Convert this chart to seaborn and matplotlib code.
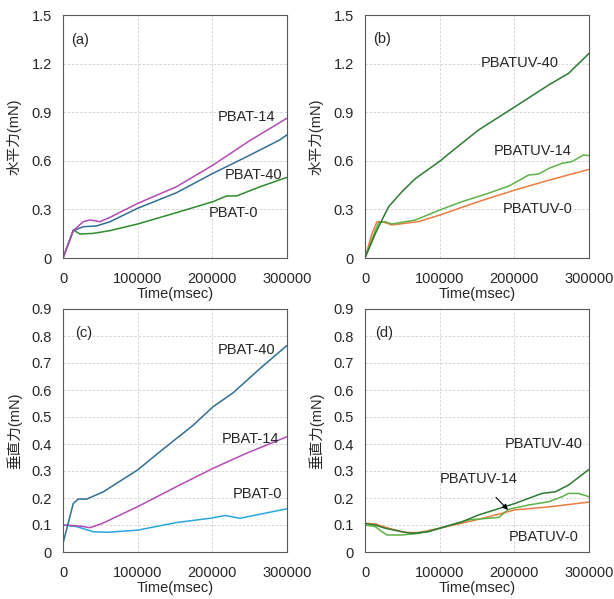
import numpy as np
import pandas as pd
import matplotlib
matplotlib.use('Agg')
import matplotlib.pyplot as plt
import seaborn as sns

# ---- data (time in msec, force in mN) ----
# (a) horizontal force, PBAT
a_t14 = [0, 13800, 27000, 36000, 49500, 63000, 100000, 152000, 201000, 250000, 300000]
a_v14 = [0, 0.169, 0.224, 0.235, 0.224, 0.251, 0.337, 0.44, 0.574, 0.724, 0.863]
a_t40 = [0, 13800, 27000, 45000, 63000, 100000, 152000, 201000, 246000, 290000, 300000]
a_v40 = [0, 0.169, 0.193, 0.198, 0.224, 0.307, 0.403, 0.523, 0.625, 0.728, 0.76]
a_t0 = [0, 13800, 22800, 40600, 63000, 100000, 152000, 201000, 219000, 232500, 264000, 300000]
a_v0 = [0, 0.173, 0.148, 0.152, 0.169, 0.21, 0.28, 0.348, 0.383, 0.383, 0.44, 0.498]

# (b) horizontal force, PBATUV
b_t40 = [0, 13800, 22800, 31700, 49600, 67500, 100900, 114000, 152000, 201000, 246000,
         272700, 300000]
b_v40 = [0, 0.15, 0.235, 0.317, 0.41, 0.49, 0.60, 0.65, 0.79, 0.934, 1.068,
         1.14, 1.263]
b_t14 = [0, 13800, 18300, 27000, 36000, 67000, 100000, 130000, 165600, 192400, 201000,
         219000, 232500, 246000, 263800, 277000, 293000, 300000]
b_v14 = [0, 0.17, 0.218, 0.224, 0.21, 0.234, 0.296, 0.348, 0.40, 0.444, 0.465,
         0.512, 0.518, 0.553, 0.584, 0.595, 0.636, 0.632]
b_t0 = [0, 9400, 16000, 22800, 36000, 72000, 100000, 152000, 201000, 246000, 300000]
b_v0 = [0, 0.152, 0.224, 0.224, 0.204, 0.225, 0.265, 0.348, 0.42, 0.48, 0.547]

# (c) vertical force, PBAT
c_t40 = [0, 13800, 20500, 31700, 54000, 100000, 130000, 174500, 201000, 228000, 264000, 300000]
c_v40 = [0.032, 0.18, 0.196, 0.196, 0.223, 0.304, 0.372, 0.47, 0.538, 0.59, 0.68, 0.765]
c_t14 = [0, 22800, 36000, 52000, 100000, 152000, 201000, 246000, 300000]
c_v14 = [0.10, 0.096, 0.09, 0.105, 0.168, 0.242, 0.31, 0.366, 0.427]
c_t0 = [0, 18000, 40600, 58500, 100000, 152000, 197000, 217000, 237000, 264000, 300000]
c_v0 = [0.10, 0.094, 0.075, 0.073, 0.081, 0.109, 0.125, 0.135, 0.125, 0.14, 0.16]

# (d) vertical force, PBATUV
d_t40 = [0, 13800, 27000, 49500, 63000, 85000, 100000, 130000, 152000, 201000, 237000,
         255000, 272700, 300000]
d_v40 = [0.106, 0.10, 0.088, 0.075, 0.069, 0.075, 0.088, 0.112, 0.137, 0.18, 0.217,
         0.223, 0.248, 0.306]
d_t14 = [0, 13800, 22800, 29500, 49500, 72000, 100000, 139000, 179000, 192400, 219000,
         246000, 264000, 272700, 286000, 300000]
d_v14 = [0.10, 0.094, 0.075, 0.063, 0.063, 0.069, 0.088, 0.119, 0.128, 0.158, 0.174,
         0.186, 0.205, 0.217, 0.217, 0.205]
d_t0 = [0, 13800, 31700, 54000, 72000, 100000, 152000, 201000, 246000, 300000]
d_v0 = [0.106, 0.104, 0.088, 0.072, 0.072, 0.088, 0.121, 0.156, 0.167, 0.185]

x_ticks = [0, 100000, 200000, 300000]
h_ticks = [0, 0.3, 0.6, 0.9, 1.2, 1.5]
h_labels = ['0', '0.3', '0.6', '0.9', '1.2', '1.5']
v_ticks = [0, 0.1, 0.2, 0.3, 0.4, 0.5, 0.6, 0.7, 0.8, 0.9]
v_labels = ['0', '0.1', '0.2', '0.3', '0.4', '0.5', '0.6', '0.7', '0.8', '0.9']

MAGENTA = '#B54AB8'
TEAL = '#2F6F94'
GREEN = '#2E8B2E'
CYAN = '#29A8DD'
DKGREEN = '#2E7A32'
LTGREEN = '#5DB246'
ORANGE = '#EE7B3F'

sns.set_theme(style='white')
plt.rcParams['font.family'] = ['Liberation Sans', 'Noto Sans CJK JP', 'DejaVu Sans']

fig = plt.figure(figsize=(6.14, 5.99), dpi=100)
axes = {
    'a': fig.add_axes([63 / 614, 1 - 258 / 599, 224 / 614, 243 / 599]),
    'b': fig.add_axes([365 / 614, 1 - 258 / 599, 224 / 614, 243 / 599]),
    'c': fig.add_axes([63 / 614, 1 - 552 / 599, 224 / 614, 243 / 599]),
    'd': fig.add_axes([365 / 614, 1 - 552 / 599, 224 / 614, 243 / 599]),
}

FS = 10.5


def draw(ax, series, ticks, labels, ylabel):
    for t, v, col in series:
        df = pd.DataFrame({'t': t, 'v': v})
        sns.lineplot(data=df, x='t', y='v', ax=ax, color=col, linewidth=1.1,
                     estimator=None, sort=False)
    ax.set_xlim(0, 300000)
    ax.set_ylim(ticks[0], ticks[-1])
    ax.set_xticks(x_ticks)
    ax.set_xticklabels([str(x) for x in x_ticks], fontsize=FS)
    ax.set_yticks(ticks)
    ax.set_yticklabels(labels, fontsize=FS)
    ax.tick_params(axis='x', length=0, pad=10)
    ax.tick_params(axis='y', length=0, pad=8)
    ax.grid(True, color='#D0D0D0', linestyle=(0, (3, 2)), linewidth=0.6)
    for sp in ax.spines.values():
        sp.set_color('#5A5A5A')
        sp.set_linewidth(0.8)
    ax.set_xlabel('Time(msec)', fontsize=FS, labelpad=1)
    ax.set_ylabel(ylabel, fontsize=FS, labelpad=7)


draw(axes['a'], [(a_t0, a_v0, GREEN), (a_t40, a_v40, TEAL), (a_t14, a_v14, MAGENTA)],
     h_ticks, h_labels, '水平力(mN)')
draw(axes['b'], [(b_t0, b_v0, ORANGE), (b_t14, b_v14, LTGREEN), (b_t40, b_v40, DKGREEN)],
     h_ticks, h_labels, '水平力(mN)')
draw(axes['c'], [(c_t0, c_v0, CYAN), (c_t14, c_v14, MAGENTA), (c_t40, c_v40, TEAL)],
     v_ticks, v_labels, '垂直力(mN)')
draw(axes['d'], [(d_t0, d_v0, ORANGE), (d_t14, d_v14, LTGREEN), (d_t40, d_v40, DKGREEN)],
     v_ticks, v_labels, '垂直力(mN)')

txt = dict(fontsize=FS, ha='center', va='center')
ax = axes['a']
ax.text(22400, 1.346, '(a)', **txt)
ax.text(246000, 0.87, 'PBAT-14', **txt)
ax.text(255000, 0.514, 'PBAT-40', **txt)
ax.text(228000, 0.277, 'PBAT-0', **txt)

ax = axes['b']
ax.text(22800, 1.35, '(b)', **txt)
ax.text(207000, 1.206, 'PBATUV-40', **txt)
ax.text(224000, 0.658, 'PBATUV-14', **txt)
ax.text(231700, 0.302, 'PBATUV-0', **txt)

ax = axes['c']
ax.text(27800, 0.81, '(c)', **txt)
ax.text(246000, 0.75, 'PBAT-40', **txt)
ax.text(251600, 0.42, 'PBAT-14', **txt)
ax.text(260000, 0.216, 'PBAT-0', **txt)

ax = axes['d']
ax.text(25400, 0.81, '(d)', **txt)
ax.text(239000, 0.40, 'PBATUV-40', **txt)
ax.text(239000, 0.056, 'PBATUV-0', **txt)
ax.annotate('PBATUV-14', xy=(191500, 0.156), xytext=(152000, 0.27),
            fontsize=FS, ha='center', va='center',
            arrowprops=dict(arrowstyle='-|>', color='black', lw=0.8,
                            shrinkA=8, shrinkB=0, mutation_scale=8))

fig.savefig('out.png', dpi=100)
